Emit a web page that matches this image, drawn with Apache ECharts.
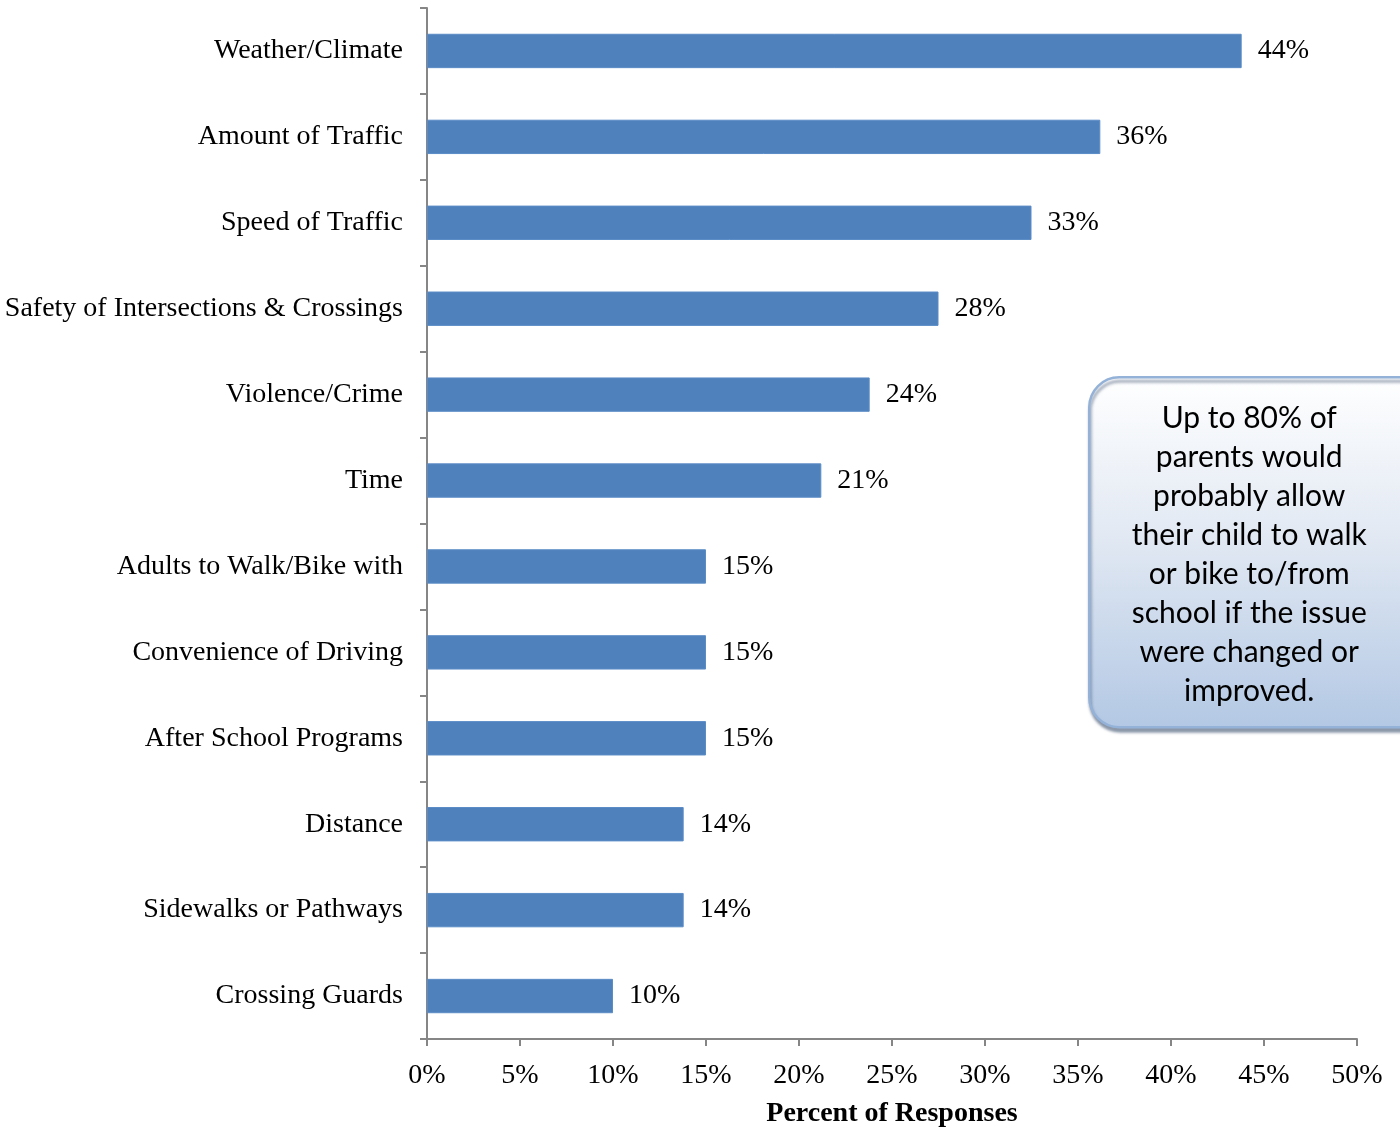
<!DOCTYPE html>
<html>
<head>
<meta charset="utf-8">
<script src="https://cdn.jsdelivr.net/npm/echarts@6/dist/echarts.min.js"></script>
<style>
  html, body { margin: 0; padding: 0; background: #fff; }
  #chart { width: 1400px; height: 1128px; }
</style>
</head>
<body>
<div id="chart"></div>
<script>
// Barriers to walking / biking to school
const categories = [
  'Weather/Climate',
  'Amount of Traffic',
  'Speed of Traffic',
  'Safety of Intersections & Crossings',
  'Violence/Crime',
  'Time',
  'Adults to Walk/Bike with',
  'Convenience of Driving',
  'After School Programs',
  'Distance',
  'Sidewalks or Pathways',
  'Crossing Guards'
];
const percentValues = [43.8, 36.2, 32.5, 27.5, 23.8, 21.2, 15.0, 15.0, 15.0, 13.8, 13.8, 10.0];
const xAxisTitle = 'Percent of Responses';
const calloutLines = [
  'Up to 80% of',
  'parents would',
  'probably allow',
  'their child to walk',
  'or bike to/from',
  'school if the issue',
  'were changed or',
  'improved.'
];

const serif = '"Liberation Serif", "DejaVu Serif", serif';
const sans = 'Lato, "Open Sans", "Liberation Sans", sans-serif';
const axisGray = '#868686';

const chart = echarts.init(document.getElementById('chart'));
chart.setOption({
  animation: false,
  backgroundColor: '#ffffff',
  grid: {
    left: 427, right: 43, top: 8, bottom: 89,
    containLabel: false,
    outerBoundsMode: 'none'
  },
  xAxis: {
    type: 'value',
    min: 0,
    max: 50,
    interval: 5,
    name: xAxisTitle,
    nameLocation: 'middle',
    nameGap: 61,
    nameTextStyle: { fontFamily: serif, fontSize: 28, fontWeight: 'bold', color: '#000' },
    axisLine: { show: true, lineStyle: { color: axisGray, width: 2 } },
    axisTick: { show: true, length: 7, lineStyle: { color: axisGray, width: 2 } },
    axisLabel: { formatter: '{value}%', margin: 23, fontFamily: serif, fontSize: 28, color: '#000' },
    splitLine: { show: false }
  },
  yAxis: {
    type: 'category',
    data: categories,
    inverse: true,
    axisLine: { show: true, lineStyle: { color: axisGray, width: 2 } },
    axisTick: { show: true, length: 7, alignWithLabel: false, lineStyle: { color: axisGray, width: 2 } },
    axisLabel: { margin: 24, fontFamily: serif, fontSize: 28, color: '#000' }
  },
  series: [{
    type: 'bar',
    data: percentValues,
    barWidth: '40%',
    itemStyle: { color: '#4f81bd', borderColor: '#5b8cc6', borderWidth: 1 },
    label: {
      show: true,
      position: 'right',
      distance: 16,
      fontFamily: serif,
      fontSize: 28,
      color: '#000',
      formatter: p => Math.round(p.value) + '%'
    }
  }],
  graphic: [{
    type: 'group',
    left: 1088,
    top: 376,
    children: [{
      type: 'rect',
      shape: { x: 0, y: 0, width: 340, height: 350, r: 30 },
      style: {
        fill: new echarts.graphic.LinearGradient(0, 0, 0, 1, [
          { offset: 0, color: '#ffffff' },
          { offset: 0.45, color: '#e2e9f3' },
          { offset: 1, color: '#b3c8e4' }
        ]),
        stroke: '#94b2d8',
        lineWidth: 2.5,
        shadowColor: 'rgba(60,80,110,0.55)',
        shadowBlur: 3,
        shadowOffsetX: 1,
        shadowOffsetY: 4
      }
    }, {
      type: 'text',
      x: 160,
      y: 22,
      style: {
        text: calloutLines.join('\n'),
        fontFamily: sans,
        fontSize: 30,
        lineHeight: 39,
        fill: '#000',
        align: 'center',
        verticalAlign: 'top'
      }
    }]
  }]
});
</script>
</body>
</html>
